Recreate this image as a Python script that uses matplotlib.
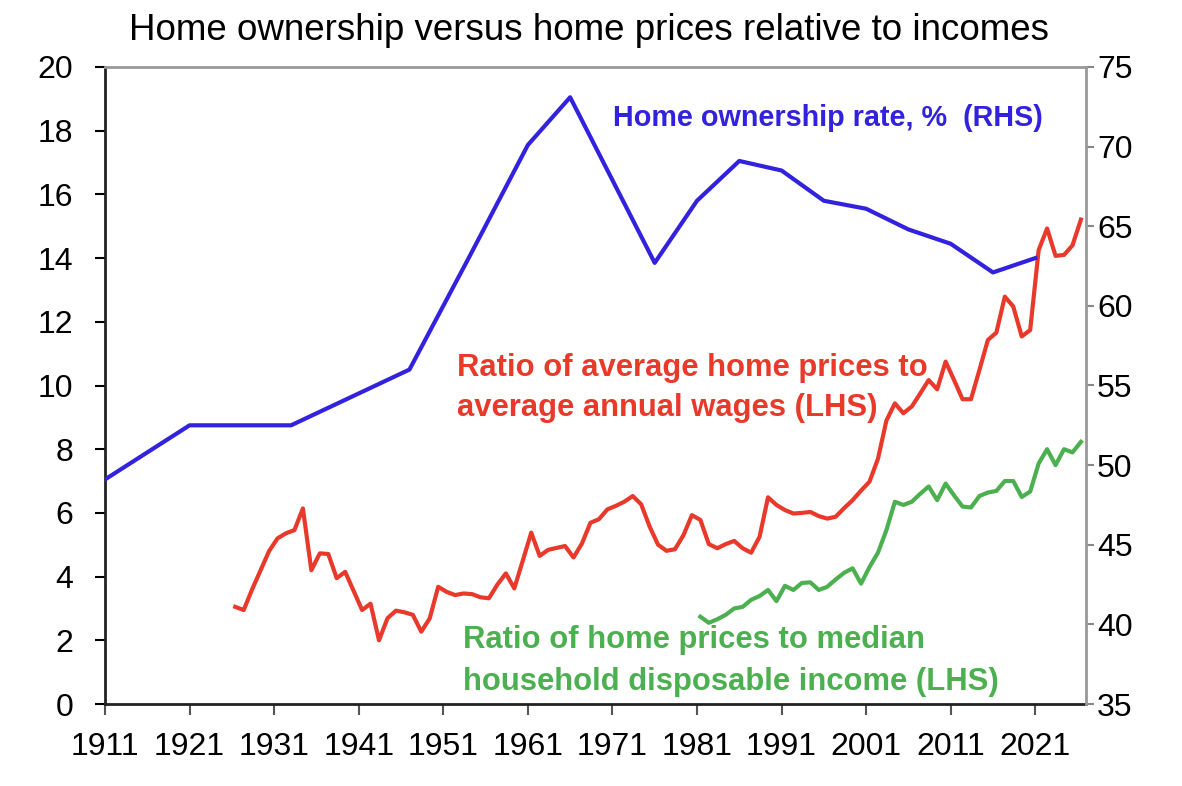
import matplotlib
matplotlib.use('Agg')
import matplotlib.pyplot as plt
import numpy as np

# home ownership rate, % (census years, RHS)
own_years = [1911, 1921, 1933, 1947, 1954, 1961, 1966, 1976, 1981, 1986,
             1991, 1996, 2001, 2006, 2011, 2016, 2021]
own_rate = [49.1, 52.5, 52.5, 56.0, 63.0, 70.1, 73.1, 62.7, 66.6, 69.1,
            68.5, 66.6, 66.1, 64.8, 63.9, 62.1, 63.0]

# ratio of average home prices to average annual wages (LHS), 1926-2026
wage_years = list(range(1926, 2027))
wage_ratio = [3.05, 2.95, 3.6, 4.2, 4.8, 5.2, 5.36, 5.46, 6.14, 4.2,
              4.73, 4.71, 3.95, 4.15, 3.55, 2.95, 3.15, 2.0, 2.69, 2.93,
              2.88, 2.8, 2.27, 2.69, 3.68, 3.52, 3.42, 3.47, 3.45, 3.35,
              3.32, 3.75, 4.1, 3.63, 4.5, 5.38, 4.65, 4.84, 4.9, 4.96,
              4.6, 5.04, 5.69, 5.8, 6.11, 6.22, 6.35, 6.53, 6.27, 5.57,
              5.0, 4.81, 4.86, 5.3, 5.93, 5.78, 5.02, 4.89, 5.02, 5.12,
              4.89, 4.75, 5.25, 6.49, 6.25, 6.09, 5.98, 6.0, 6.03, 5.9,
              5.82, 5.88, 6.15, 6.4, 6.7, 6.98, 7.7, 8.9, 9.44, 9.13,
              9.34, 9.75, 10.17, 9.88, 10.75, 10.17, 9.57, 9.57, 10.49, 11.43,
              11.66, 12.79, 12.48, 11.54, 11.74, 14.25, 14.93, 14.07, 14.1, 14.4,
              15.21]

# ratio of home prices to median household disposable income (LHS), 1981-2026
inc_years = list(range(1981, 2027))
inc_ratio = [2.74, 2.55, 2.66, 2.8, 3.0, 3.05, 3.27, 3.39, 3.58, 3.23,
             3.71, 3.58, 3.8, 3.82, 3.58, 3.68, 3.91, 4.12, 4.26, 3.78,
             4.3, 4.75, 5.46, 6.35, 6.25, 6.35, 6.6, 6.83, 6.4, 6.92,
             6.55, 6.2, 6.17, 6.53, 6.64, 6.69, 7.0, 7.0, 6.5, 6.67,
             7.55, 8.0, 7.5, 8.0, 7.9, 8.23]

xticks = list(range(1911, 2022, 10))

BLUE = '#3322dd'
RED = '#e8392b'
GREEN = '#4cb050'

plt.rcParams['font.family'] = 'Liberation Sans'

fig = plt.figure(figsize=(11.82, 7.86), dpi=100)
ax = fig.add_axes([105 / 1182, 1 - 704 / 786, 981 / 1182, 637 / 786])
ax2 = ax.twinx()

ax2.plot(own_years, own_rate, color=BLUE, lw=3, solid_joinstyle='round')
# annual series sit mid-year
ax.plot(np.array(wage_years) + 0.4, wage_ratio, color=RED, lw=3,
        solid_joinstyle='round')
ax.plot(np.array(inc_years) + 0.4, inc_ratio, color=GREEN, lw=3,
        solid_joinstyle='round')

ax.set_xlim(1911, 2027)
ax.set_ylim(0, 20)
ax2.set_ylim(35, 75)
ax.set_yticks(range(0, 21, 2))
ax2.set_yticks(range(35, 76, 5))
ax.set_xticks(xticks)

tick_fs = 23
ax.tick_params(axis='y', direction='out', length=7, width=1.5, labelsize=tick_fs, pad=16)
ax.tick_params(axis='x', direction='out', length=8, width=1.5, color='#555555',
               labelsize=tick_fs, pad=12)
ax2.tick_params(axis='y', direction='out', length=6, width=1.5, color='#888888',
                labelsize=tick_fs, pad=2)

for sp in ['left', 'bottom']:
    ax.spines[sp].set_linewidth(2)
    ax.spines[sp].set_color('#222222')
for sp in ['top', 'right']:
    ax2.spines[sp].set_linewidth(2)
    ax2.spines[sp].set_color('#999999')
ax.spines['top'].set_visible(False)
ax.spines['right'].set_visible(False)
ax2.spines['left'].set_visible(False)
ax2.spines['bottom'].set_visible(False)

fig.text(0.498, 1 - 31 / 786, 'Home ownership versus home prices relative to incomes',
         ha='center', va='center', fontsize=26.5)

ax.text(1971.1, 18.4, 'Home ownership rate, %  (RHS)', color=BLUE, fontsize=20.7,
        fontweight='bold', va='center', ha='left')
ax.text(1952.6, 10.55, 'Ratio of average home prices to', color=RED, fontsize=22.3,
        fontweight='bold', va='center', ha='left')
ax.text(1952.6, 9.3, 'average annual wages (LHS)', color=RED, fontsize=22.3,
        fontweight='bold', va='center', ha='left')
ax.text(1953.3, 2.0, 'Ratio of home prices to median', color=GREEN, fontsize=22.3,
        fontweight='bold', va='center', ha='left')
ax.text(1953.3, 0.69, 'household disposable income (LHS)', color=GREEN, fontsize=22.3,
        fontweight='bold', va='center', ha='left')

fig.savefig('out.png', dpi=100)
